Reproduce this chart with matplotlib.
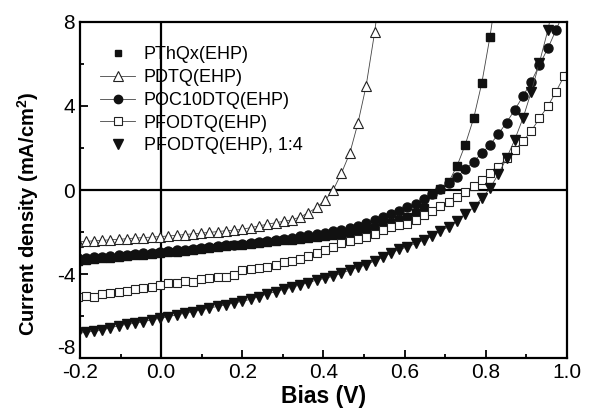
import matplotlib.pyplot as plt
from matplotlib.lines import Line2D
from matplotlib.ticker import MultipleLocator

plt.rcParams['font.family'] = ['Liberation Sans', 'DejaVu Sans']
plt.rcParams['axes.unicode_minus'] = False
plt.rcParams['mathtext.fontset'] = 'custom'
plt.rcParams['mathtext.bf'] = 'Liberation Sans:bold'
plt.rcParams['mathtext.rm'] = 'Liberation Sans:bold'
plt.rcParams['mathtext.default'] = 'bf'

# Bias (V) - shared measurement grid
bias = [-0.206, -0.186, -0.166, -0.145, -0.125, -0.105, -0.085, -0.064, -0.044, -0.023,
        -0.003, 0.017, 0.038, 0.058, 0.078, 0.099, 0.119, 0.139, 0.160, 0.180,
        0.200, 0.221, 0.241, 0.261, 0.282, 0.302, 0.322, 0.343, 0.363, 0.383,
        0.404, 0.424, 0.444, 0.465, 0.485, 0.505, 0.526, 0.546, 0.566, 0.587,
        0.607, 0.627, 0.648, 0.668, 0.688, 0.709, 0.729, 0.749, 0.770, 0.790,
        0.810, 0.831, 0.851, 0.871, 0.892, 0.912, 0.932, 0.953, 0.973, 0.993,
        1.014]

# Current density (mA/cm2)
j_pthqx = [-3.36, -3.32, -3.29, -3.25, -3.22, -3.18, -3.15, -3.11, -3.08, -3.04,
           -3.01, -2.97, -2.93, -2.89, -2.85, -2.81, -2.77, -2.73, -2.69, -2.64,
           -2.60, -2.56, -2.52, -2.48, -2.44, -2.40, -2.36, -2.32, -2.27, -2.23,
           -2.18, -2.13, -2.08, -2.02, -1.96, -1.90, -1.83, -1.69, -1.56, -1.42,
           -1.30, -1.11, -0.85, -0.18, 0.03, 0.40, 1.14, 2.14, 3.41, 5.08,
           7.27, 10.0]

j_pdtq = [-2.47, -2.45, -2.42, -2.40, -2.37, -2.35, -2.32, -2.29, -2.27, -2.24,
          -2.22, -2.19, -2.16, -2.12, -2.09, -2.05, -2.02, -1.98, -1.94, -1.91,
          -1.87, -1.79, -1.71, -1.63, -1.56, -1.49, -1.42, -1.28, -1.08, -0.83,
          -0.48, 0.00, 0.79, 1.76, 3.19, 4.95, 7.50, 10.5]

j_poc10 = [-3.26, -3.23, -3.20, -3.17, -3.14, -3.11, -3.08, -3.05, -3.02, -2.99,
           -2.96, -2.92, -2.88, -2.84, -2.80, -2.76, -2.72, -2.68, -2.64, -2.60,
           -2.57, -2.52, -2.48, -2.43, -2.38, -2.33, -2.27, -2.21, -2.15, -2.09,
           -2.03, -1.97, -1.90, -1.82, -1.72, -1.59, -1.43, -1.28, -1.14, -0.98,
           -0.79, -0.67, -0.44, -0.21, 0.05, 0.35, 0.63, 0.98, 1.35, 1.75,
           2.14, 2.67, 3.21, 3.81, 4.48, 5.16, 5.95, 6.75, 7.62, 8.50]

j_pfodtq = [-5.11, -5.05, -5.08, -4.97, -4.89, -4.86, -4.83, -4.73, -4.68, -4.63,
            -4.54, -4.44, -4.44, -4.32, -4.37, -4.25, -4.21, -4.13, -4.13, -4.06,
            -3.81, -3.76, -3.72, -3.65, -3.57, -3.45, -3.38, -3.30, -3.12, -2.99,
            -2.85, -2.70, -2.54, -2.42, -2.31, -2.22, -2.08, -1.90, -1.78, -1.67,
            -1.60, -1.43, -1.19, -0.98, -0.76, -0.56, -0.35, -0.08, 0.19, 0.48,
            0.79, 1.11, 1.50, 1.90, 2.33, 2.81, 3.41, 4.00, 4.68, 5.43,
            6.22]

j_pfodtq14 = [-6.83, -6.78, -6.72, -6.68, -6.55, -6.47, -6.40, -6.34, -6.27, -6.18,
              -6.11, -6.03, -5.95, -5.87, -5.79, -5.71, -5.62, -5.54, -5.46, -5.38,
              -5.30, -5.20, -5.08, -4.95, -4.84, -4.73, -4.63, -4.52, -4.41, -4.29,
              -4.21, -4.10, -3.97, -3.81, -3.68, -3.57, -3.37, -3.21, -3.00, -2.83,
              -2.71, -2.54, -2.38, -2.19, -1.94, -1.75, -1.46, -1.14, -0.83, -0.40,
              0.08, 0.76, 1.51, 2.38, 3.44, 4.68, 6.06, 7.62, 9.50]

labels = ['PThQx(EHP)', 'PDTQ(EHP)', 'POC10DTQ(EHP)', 'PFODTQ(EHP)', 'PFODTQ(EHP), 1:4']

fig = plt.figure(figsize=(5.89, 4.18), dpi=100)
ax = fig.add_axes([0.1358, 0.1435, 0.8268, 0.8039])

line_kw = dict(color='#444444', lw=0.6)
ax.plot(bias[:len(j_pthqx)], j_pthqx, marker='s', ms=6, mfc='#111111', mec='#111111', **line_kw)
ax.plot(bias[:len(j_pdtq)], j_pdtq, marker='^', ms=7.5, mfc='white', mec='#222222', mew=0.8, **line_kw)
ax.plot(bias[:len(j_poc10)], j_poc10, marker='o', ms=6.5, mfc='#111111', mec='#111111', **line_kw)
ax.plot(bias[:len(j_pfodtq)], j_pfodtq, marker='s', ms=6, mfc='white', mec='#222222', mew=0.8, **line_kw)
ax.plot(bias[:len(j_pfodtq14)], j_pfodtq14, marker='v', ms=7.5, mfc='#111111', mec='#111111', **line_kw)

ax.axhline(0, color='black', lw=1.6, zorder=1)
ax.axvline(0, color='black', lw=1.6, zorder=1)

ax.set_xlim(-0.2, 1.0)
ax.set_ylim(-8, 8)
ax.xaxis.set_major_locator(MultipleLocator(0.2))
ax.xaxis.set_minor_locator(MultipleLocator(0.1))
ax.yaxis.set_major_locator(MultipleLocator(4))
ax.yaxis.set_minor_locator(MultipleLocator(2))
ax.xaxis.set_major_formatter(plt.FormatStrFormatter('%.1f'))
ax.tick_params(which='both', direction='in', top=False, right=False, labelsize=15, width=1.3)
ax.tick_params(which='major', length=6)
ax.tick_params(which='minor', length=3)
for s in ax.spines.values():
    s.set_linewidth(1.6)

ax.set_xlabel('Bias (V)', fontsize=16.5, fontweight='bold', labelpad=2)
ax.set_ylabel('Current density (mA/cm$^2$)', fontsize=14.5, fontweight='bold')
ax.yaxis.set_label_coords(-0.08, 0.43)

handles = [
    Line2D([], [], ls='none', marker='s', ms=5, mfc='#111111', mec='#111111'),
    Line2D([], [], marker='^', ms=6.5, mfc='white', mec='#222222', mew=0.8, **line_kw),
    Line2D([], [], marker='o', ms=6, mfc='#111111', mec='#111111', **line_kw),
    Line2D([], [], marker='s', ms=5.5, mfc='white', mec='#222222', mew=0.8, **line_kw),
    Line2D([], [], ls='none', marker='v', ms=7, mfc='#111111', mec='#111111'),
]
ax.legend(handles, labels, loc='upper left', bbox_to_anchor=(0.016, 0.965), frameon=False,
          fontsize=13, handlelength=1.9, handletextpad=0.5, labelspacing=0.32,
          borderaxespad=0.3)

# lift the "-8" label so it sits above "-0.2", like the original
fig.canvas.draw()
for lbl in ax.yaxis.get_ticklabels():
    if lbl.get_text() == '-8':
        lbl.set_verticalalignment('bottom')

fig.savefig('out.png', dpi=100)
